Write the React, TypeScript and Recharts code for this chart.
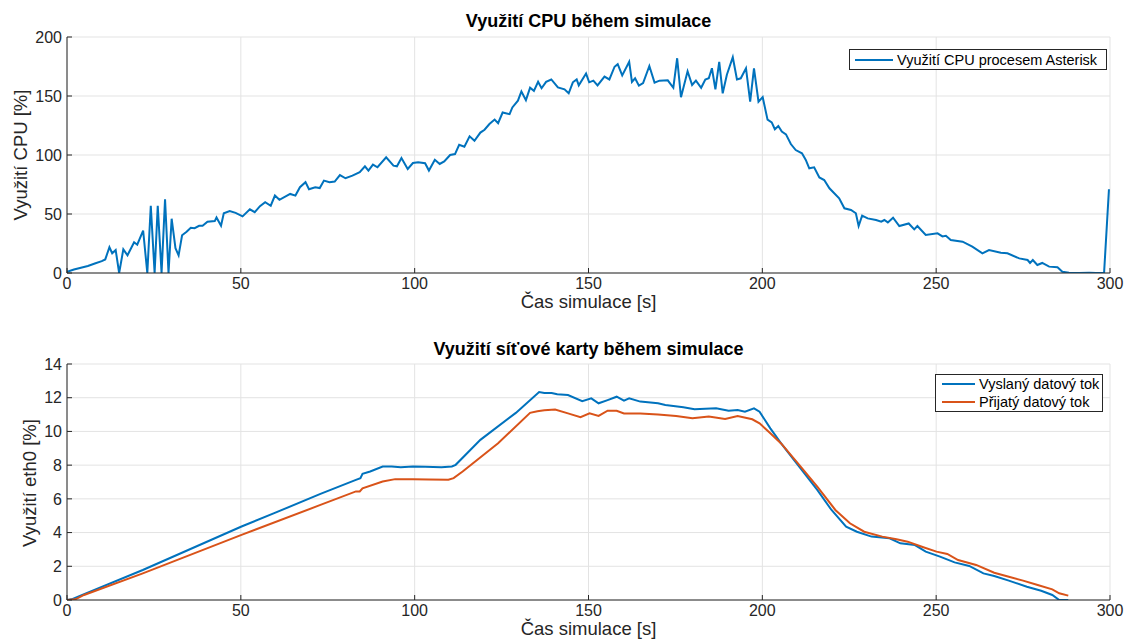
import React from 'react'
import { LineChart, Line, XAxis, YAxis, CartesianGrid } from 'recharts'

// CPU load of the Asterisk process (time [s], load [%])
const cpuTime = [
  0, 2, 4, 6, 8, 10, 11, 12.2, 13, 14, 15, 16.2, 17.4, 19.3, 20.2, 21.9, 23.1, 24.1, 25.2, 26.1,
  27.2, 28.2, 29.2, 30.1, 31.2, 32.1, 33.1, 34.4, 35.6, 36.7, 38, 39, 40.4, 42.5, 43, 44.3, 45.1,
  46.8, 48.5, 50.5, 52.6, 54, 55.5, 57, 58.6, 59.8, 61.1, 64.2, 65.7, 67, 68.6, 69.6, 71.4, 72.7,
  73.9, 75.5, 77, 78.5, 80.1, 82.1, 84.2, 85.7, 86.7, 88, 89.3, 91.8, 93.9, 94.9, 96.2, 98, 99.5,
  101, 103, 104.1, 105.8, 107.2, 108.5, 110.2, 111.6, 112.8, 114.3, 115.8, 117.2, 118.9, 120.1,
  121.5, 123, 124, 125.3, 127.3, 128.1, 129.7, 130.7, 132, 133.2, 134.3, 135.5, 136.5, 137.8,
  139.3, 141.2, 143.1, 144.3, 145.5, 146.6, 147.2, 149.3, 150.2, 151.4, 152.6, 154.6, 156, 157.5,
  158.4, 159.7, 161.7, 162.5, 163.4, 164.5, 165.7, 167.5, 169, 170.4, 172.8, 174.4, 175.5, 176.6,
  178.5, 179.8, 180.9, 182.4, 183.6, 184.6, 185.5, 186.5, 187.6, 188.6, 189.8, 191.5, 192.7,
  193.8, 195.3, 196.5, 197.6, 198.9, 200.1, 201.5, 202.7, 203.6, 204.6, 205.6, 206.8, 208.2,
  209.6, 211.4, 212.5, 213.5, 214.9, 216.4, 217.8, 219.3, 222.1, 223.6, 225.5, 226.9, 227.7,
  228.7, 230.3, 232.7, 234.2, 235.1, 236.1, 237.6, 239.4, 242.1, 243.7, 244.6, 247, 250.4, 251.8,
  252.8, 254.2, 257.6, 260.4, 263.3, 265.2, 268.6, 270.5, 273.9, 276.3, 277, 277.8, 279.1, 280.5,
  282.5, 284.9, 286.3, 288.2, 291.1, 294, 296, 298.3, 299.7,
]
const cpuLoad = [
  1, 3, 4.5, 6, 8, 10, 11.5, 21.8, 16.7, 19.5, 0, 20, 15, 26, 24, 36, 0, 57, 0, 57,
  0, 62.4, 0, 46, 21, 15, 32, 35, 38.4, 38, 40, 40, 43.5, 44, 47, 40, 50.6,
  52.5, 51, 48, 54, 51.5, 56.6, 60, 57, 65.6, 62, 67, 65.6, 72.7, 77, 71, 72.7, 72,
  78.3, 77, 77.5, 83, 80.3, 82.5, 85.4, 90.4, 86.8, 91.8, 89.6, 98, 91, 90.4, 97.5, 88.2, 93.2,
  93.8, 93, 86.8, 96, 92.4, 94.6, 100, 100.8, 108.7, 107, 115.8, 112, 119, 121.4,
  126.2, 130, 127, 136, 134.6, 140.3, 146, 153.8, 146.5, 157, 154.4, 162, 156.6, 162,
  164, 157.3, 155.6, 152.3, 161.6, 164, 159, 169, 161.6, 163, 159, 166.4, 164, 174.8,
  177, 167.5, 179, 162, 165, 158.8, 161, 175.4, 161.3, 163, 163.3, 157, 182, 149,
  171, 159.3, 163, 157, 164, 165, 173.5, 155.6, 179, 152.3, 168, 182.8, 164,
  165, 173.5, 145.2, 173.5, 145.2, 149, 130, 127.7, 121.8, 124.6, 119.8, 117.5, 109.3,
  104.2, 101.4, 95.8, 88.7, 89.5, 81, 78.8, 71.8, 63.3, 54.8, 53.4, 50.6, 39.8,
  48.6, 46.3, 44.9, 43.5, 44.9, 42.9, 46.9, 39.8, 42, 37, 39.8, 32.2, 33.6, 31,
  31.6, 28, 26.5, 22.3, 16.7, 19.5, 17.2, 16.7, 12.4, 11, 8.5, 11, 6.8, 8.5,
  5.4, 4.8, 1.1, 0.2, 0, 0.2, 0, 0.3, 71,
]

// eth0 utilisation, transmitted stream
const txTime = [
  0, 1.3, 4.4, 21.8, 50.2, 59.6, 72.9, 83.1, 84.4, 85, 87.2, 90.8, 93.4, 96, 99.5, 103, 107.7,
  110.7, 111.8, 118.9, 129.1, 135.8, 137.3, 139.4, 141, 144.1, 148.2, 150.8, 152.9, 155.5, 158.1,
  160.2, 161.7, 164.9, 170, 172.1, 177.3, 180.5, 186.7, 190.3, 192.9, 195, 197.6, 199.2, 202.3,
  205.4, 210.6, 215.8, 219.9, 224.1, 227.2, 231.4, 236.6, 239.7, 243.9, 247, 251.1, 255.3, 259.5,
  263.6, 266.7, 270.9, 276.1, 280.2, 283.4, 285.4, 288,
]
const txValue = [
  0, 0.04, 0.3, 1.78, 4.36, 5.15, 6.3, 7.13, 7.23, 7.48, 7.62, 7.92, 7.92, 7.88, 7.92, 7.9, 7.88,
  7.92, 8.02, 9.5, 11.1, 12.34, 12.28, 12.28, 12.2, 12.16, 11.8, 11.96, 11.67, 11.86, 12.06,
  11.83, 11.96, 11.77, 11.67, 11.57, 11.43, 11.31, 11.37, 11.23, 11.27, 11.17, 11.37, 11.17, 10.18,
  9.29, 7.91, 6.53, 5.34, 4.35, 4.05, 3.76, 3.66, 3.36, 3.26, 2.87, 2.57, 2.23, 2.02,
  1.58, 1.42, 1.15, 0.79, 0.55, 0.3, 0, 0,
]

// eth0 utilisation, received stream
const rxTime = [
  0, 2.4, 4.9, 21.8, 50.2, 72.9, 83.1, 84.2, 85, 90.8, 94.4, 99.5, 104, 109.7, 111.2, 113.8, 124,
  133.2, 135.3, 137.3, 140.4, 144.1, 147.7, 150.3, 152.9, 155.5, 158.1, 160.2, 164.9, 170, 175.2,
  179.9, 184.6, 189.3, 192.9, 197.1, 199.2, 202.3, 205.4, 210.6, 215.8, 221, 225.2, 229.3, 234.5,
  238.6, 241.8, 245.9, 250.1, 253.2, 256.3, 261.5, 266.7, 270.9, 275, 279.2, 283.4, 285.4, 288,
]
const rxValue = [
  0, 0.04, 0.3, 1.58, 3.86, 5.64, 6.44, 6.44, 6.63, 7.03, 7.17, 7.17, 7.15, 7.13, 7.23, 7.62, 9.3,
  11.1, 11.2, 11.25, 11.3, 11.07, 10.84, 11.07, 10.92, 11.23, 11.23, 11.07, 11.07, 11.01, 10.92,
  10.78, 10.88, 10.74, 10.92, 10.72, 10.48, 9.89, 9.29, 8.01, 6.72, 5.34, 4.55, 4.05, 3.76,
  3.6, 3.46, 3.16, 2.87, 2.73, 2.37, 2.08, 1.62, 1.38, 1.15, 0.89, 0.63, 0.4, 0.26,
]

const timeTicks = [0, 50, 100, 150, 200, 250, 300]
const cpuTicks = [0, 50, 100, 150, 200]
const netTicks = [0, 2, 4, 6, 8, 10, 12, 14]

const cpuData = cpuTime.map((t, i) => ({ t, v: cpuLoad[i] }))
const txData = txTime.map((t, i) => ({ t, v: txValue[i] }))
const rxData = rxTime.map((t, i) => ({ t, v: rxValue[i] }))

const FONT = '"Liberation Sans", Arial, Helvetica, sans-serif'
const AXIS = '#262626'
const BLUE = '#0072BD'
const ORANGE = '#D95319'
const tickStyle = { fill: AXIS, fontSize: 16, fontFamily: FONT }

interface PanelProps {
  top: number
  height: number
  marginTop: number
  xAxisHeight: number
  yTicks: number[]
  children: React.ReactNode
}

function Panel({ top, height, marginTop, xAxisHeight, yTicks, children }: PanelProps) {
  const yDomain = [yTicks[0], yTicks[yTicks.length - 1]]
  return (
    <div style={{ position: 'absolute', left: 0, top }}>
      <LineChart width={1127} height={height} margin={{ top: marginTop, right: 17, bottom: 0, left: 0 }}>
        <CartesianGrid stroke="#e3e3e3" strokeWidth={1} />
        <XAxis
          dataKey="t"
          type="number"
          domain={[0, 300]}
          ticks={timeTicks}
          height={xAxisHeight}
          stroke={AXIS}
          tickSize={-5}
          tickMargin={10}
          tick={tickStyle}
          allowDataOverflow
        />
        <XAxis
          xAxisId="top"
          orientation="top"
          type="number"
          domain={[0, 300]}
          ticks={timeTicks}
          height={0}
          stroke={AXIS}
          tickSize={-5}
          tick={false}
          allowDataOverflow
        />
        <YAxis
          type="number"
          domain={yDomain}
          ticks={yTicks}
          width={67}
          stroke={AXIS}
          tickSize={-5}
          tickMargin={10}
          tick={tickStyle}
          allowDataOverflow
        />
        <YAxis
          yAxisId="right"
          orientation="right"
          type="number"
          domain={yDomain}
          ticks={yTicks}
          width={0}
          stroke={AXIS}
          tickSize={-5}
          tick={false}
          allowDataOverflow
        />
        {children}
      </LineChart>
    </div>
  )
}

const textBase: React.CSSProperties = {
  position: 'absolute',
  fontFamily: FONT,
  lineHeight: 1,
  whiteSpace: 'nowrap',
  color: '#000',
}

function Centered({ x, y, size, bold, rotate, children }: { x: number; y: number; size: number; bold?: boolean; rotate?: boolean; children: React.ReactNode }) {
  return (
    <div
      style={{
        ...textBase,
        left: x,
        top: y,
        fontSize: size,
        fontWeight: bold ? 'bold' : 'normal',
        color: bold ? '#000' : AXIS,
        transform: `translate(-50%, -50%)${rotate ? ' rotate(-90deg)' : ''}`,
      }}
    >
      {children}
    </div>
  )
}

function LegendRow({ color, label, lineWidth }: { color: string; label: string; lineWidth: number }) {
  return (
    <div style={{ display: 'flex', alignItems: 'center', height: 18 }}>
      <div style={{ width: lineWidth, height: 2, background: color, marginRight: 4 }} />
      <span style={{ fontSize: 14.5, fontFamily: FONT, color: '#000' }}>{label}</span>
    </div>
  )
}

export default function App() {
  return (
    <div style={{ position: 'absolute', left: 0, top: 0, width: 1127, height: 641, background: '#fff', overflow: 'hidden' }}>
      <Panel top={0} height={320} marginTop={37} xAxisHeight={47} yTicks={cpuTicks}>
        <Line data={cpuData} dataKey="v" type="linear" stroke={BLUE} strokeWidth={2} dot={false} isAnimationActive={false} />
      </Panel>
      <Panel top={320} height={321} marginTop={44} xAxisHeight={41} yTicks={netTicks}>
        <Line data={txData} dataKey="v" type="linear" stroke={BLUE} strokeWidth={2} dot={false} isAnimationActive={false} />
        <Line data={rxData} dataKey="v" type="linear" stroke={ORANGE} strokeWidth={2} dot={false} isAnimationActive={false} />
      </Panel>

      <Centered x={588.5} y={21} size={18} bold>Využití CPU během simulace</Centered>
      <Centered x={588.5} y={349} size={18} bold>Využití síťové karty během simulace</Centered>
      <Centered x={588.5} y={302} size={18.5}>Čas simulace [s]</Centered>
      <Centered x={588.5} y={629} size={18.5}>Čas simulace [s]</Centered>
      <Centered x={20.5} y={155} size={18.5} rotate>Využití CPU [%]</Centered>
      <Centered x={29.5} y={483} size={18.5} rotate>Využití eth0 [%]</Centered>

      <div style={{ position: 'absolute', left: 849, top: 49, width: 258, height: 21, boxSizing: 'border-box', border: `1px solid ${AXIS}`, background: '#fff', padding: '1px 0 0 5px' }}>
        <LegendRow color={BLUE} label="Využití CPU procesem Asterisk" lineWidth={38} />
      </div>
      <div style={{ position: 'absolute', left: 935, top: 374, width: 168, height: 38, boxSizing: 'border-box', border: `1px solid ${AXIS}`, background: '#fff', padding: '0 0 0 6px' }}>
        <LegendRow color={BLUE} label="Vyslaný datový tok" lineWidth={33} />
        <LegendRow color={ORANGE} label="Přijatý datový tok" lineWidth={33} />
      </div>
    </div>
  )
}
